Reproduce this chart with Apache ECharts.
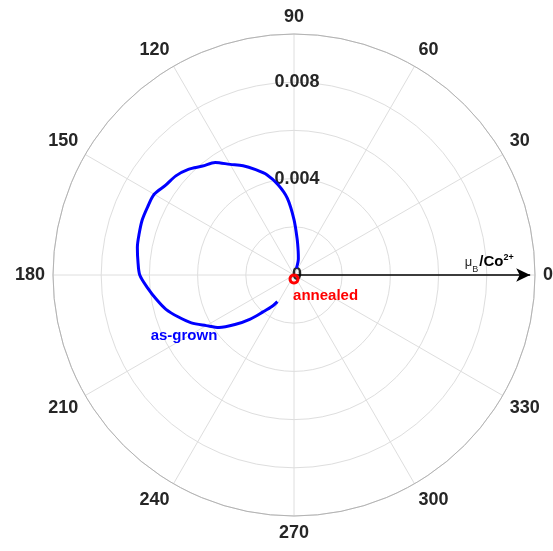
<!DOCTYPE html>
<html><head><meta charset="utf-8">
<script src="https://cdn.jsdelivr.net/npm/echarts@6/dist/echarts.min.js"></script>
<style>html,body{margin:0;padding:0;background:#fff}#c{width:553px;height:551px}</style>
</head><body><div id="c"></div>
<script>
const asGrownAngle = [70,75,80,85,90,95,100,105,110,115,120,125,130,135,140,145,150,155,160,165,170,175,180,185,190,195,200,205,210,215,220,225,230,235,238];
const asGrownR = [0.0003,0.0007,0.0010,0.0015,0.0023,0.0032,0.0038,0.0043,0.00465,0.0050,0.0053,0.0057,0.0059,0.0062,0.0064,0.0065,0.0067,0.0067,0.0067,0.00665,0.0066,0.0065,0.0064,0.0061,0.0058,0.0055,0.0051,0.0047,0.0042,0.0038,0.0032,0.0026,0.0020,0.0016,0.0013];
const annealedAngle = [180,195,210,225,240,255,270,285,300,315,330,345,360];
const annealedR = [0,0.000085,0.000165,0.000233,0.000286,0.000319,0.00033,0.000319,0.000286,0.000233,0.000165,0.000085,0];
const radialTickValues = [0, 0.004, 0.008];
const radialTickLabels = ['0', '0.004', '0.008'];
const angleTicks = [0,30,60,90,120,150,180,210,240,270,300,330];

const FONT = "'Liberation Sans', Arial, Helvetica, sans-serif";
const chart = echarts.init(document.getElementById('c'), null, {renderer: 'canvas'});
const pair = (rs, as) => rs.map((r, i) => [r, as[i]]);

chart.setOption({
  animation: false,
  backgroundColor: '#fff',
  polar: { center: [294, 275], radius: 241 },
  angleAxis: {
    type: 'value', min: 0, max: 360, interval: 30, startAngle: 0, clockwise: false,
    axisLine: { show: true, lineStyle: { color: '#b3b3b3', width: 1 } },
    axisTick: { show: false },
    splitLine: { show: true, lineStyle: { color: '#dedede', width: 1 } },
    axisLabel: {
      margin: 8, color: '#262626', fontSize: 18, fontWeight: 'bold', fontFamily: FONT,
      formatter: v => angleTicks.indexOf(v) >= 0 ? String(v) : ''
    }
  },
  radiusAxis: {
    type: 'value', min: 0, max: 0.01, interval: 0.002,
    axisLine: { show: false }, axisTick: { show: false }, axisLabel: { show: false },
    splitLine: { show: true, lineStyle: { color: '#dedede', width: 1 } }
  },
  series: [
    {
      name: 'radial labels', type: 'scatter', coordinateSystem: 'polar', symbolSize: 0, silent: true, z: 1,
      itemStyle: { opacity: 1 },
      data: radialTickValues.map((v, i) => ({ value: [v, 90], label: { formatter: radialTickLabels[i] } })),
      label: { show: true, position: 'inside', offset: [3, 0], color: '#262626', opacity: 1, fontSize: 18, fontWeight: 'bold', fontFamily: FONT }
    },
    {
      name: 'axis arrow', type: 'line', coordinateSystem: 'polar', z: 3,
      data: [
        { value: [0, 0], symbol: 'none' },
        { value: [0.0098, 0], symbol: 'arrow', symbolSize: [10, 14], symbolRotate: -90 }
      ],
      showSymbol: true, lineStyle: { color: '#000', width: 1.6 }, itemStyle: { color: '#000', opacity: 1 }
    },
    {
      name: 'unit', type: 'scatter', coordinateSystem: 'polar', symbolSize: 0, silent: true,
      itemStyle: { opacity: 1 },
      data: [[0.0081, 0]],
      label: {
        show: true, position: 'top', distance: 4, opacity: 1, formatter: '{mu|μ}{sub|B}{b|/Co}{sup|2+}',
        rich: {
          mu: { fontSize: 13, color: '#262626', fontFamily: FONT, lineHeight: 22, verticalAlign: 'bottom', padding: [0,0,2,0] },
          sub: { fontSize: 9, color: '#262626', fontFamily: FONT, lineHeight: 22, verticalAlign: 'bottom', padding: [0,1,-3,0] },
          b: { fontSize: 15, fontWeight: 'bold', color: '#000', fontFamily: FONT, lineHeight: 22, verticalAlign: 'bottom', padding: [0,0,2,0] },
          sup: { fontSize: 9, fontWeight: 'bold', color: '#000', fontFamily: FONT, lineHeight: 22, verticalAlign: 'top', padding: [4,0,0,0] }
        }
      }
    },
    {
      name: 'as-grown', type: 'line', coordinateSystem: 'polar', z: 4,
      data: pair(asGrownR, asGrownAngle), showSymbol: false, smooth: 0.3,
      lineStyle: { color: '#0000ff', width: 3 }
    },
    {
      name: 'annealed', type: 'line', coordinateSystem: 'polar', z: 5,
      data: pair(annealedR, annealedAngle), showSymbol: false, smooth: 0.3,
      lineStyle: { color: '#ff0000', width: 3 }
    },
    {
      name: 'series labels', type: 'scatter', coordinateSystem: 'polar', symbolSize: 0, silent: true, z: 6,
      itemStyle: { opacity: 1 },
      data: [
        { value: [0.00522, 209], label: { formatter: 'as-grown', color: '#0000ff' } },
        { value: [0.00158, 326], label: { formatter: 'annealed', color: '#ff0000' } }
      ],
      label: { show: true, position: 'inside', opacity: 1, fontSize: 15, fontWeight: 'bold', fontFamily: FONT }
    }
  ]
});
</script>
</body></html>
